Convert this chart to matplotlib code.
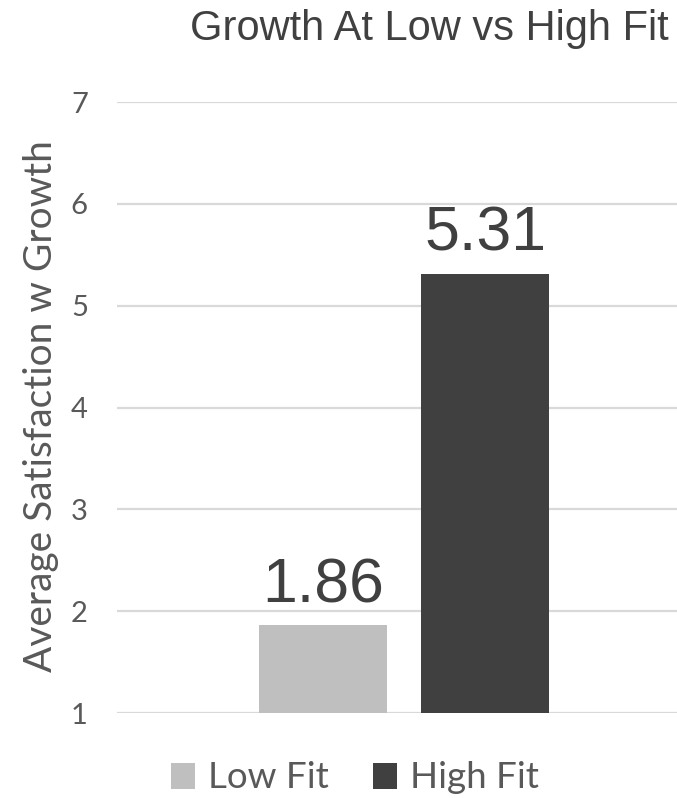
import matplotlib
matplotlib.use("Agg")
import matplotlib.pyplot as plt
from matplotlib.patches import Patch

# Data
series = ["Low Fit", "High Fit"]
values = [1.86, 5.31]
colors = ["#bfbfbf", "#404040"]
yticks = [1, 2, 3, 4, 5, 6, 7]

title = "Growth At Low vs High Fit"
ylabel = "Average Satisfaction w Growth"

W, H = 677, 798
fig = plt.figure(figsize=(W / 100, H / 100), dpi=100)
ax = fig.add_axes([117 / W, 1 - 713 / H, 560 / W, (713 - 102) / H])

# Clustered bars: unit bar width, offset from the category centre
bar_w = 1.0
offsets = [-0.633, 0.633]
for name, v, c, off in zip(series, values, colors, offsets):
    ax.bar(off, v - 1, bottom=1, width=bar_w, color=c, zorder=3, label=name)
    ax.text(off, v + 0.23, f"{v:.2f}", ha="center", va="baseline",
            fontsize=45, family="Liberation Sans", color="#404040")

ax.set_xlim(-2.242, 2.133)
ax.set_ylim(1, 7)
ax.set_yticks(yticks)
ax.set_xticks([])
ax.grid(axis="y", color="#d9d9d9", linewidth=1.6, zorder=0)
for s in ax.spines.values():
    s.set_visible(False)
ax.tick_params(axis="y", length=0, pad=21, labelsize=21, labelcolor="#595959")
for lab in ax.get_yticklabels():
    lab.set_family("Lato")

ax.set_ylabel(ylabel, fontsize=28, family="Lato", color="#595959")
ax.yaxis.set_label_coords(-0.104, 0.502)

fig.text(669 / W, 1 - 40 / H, title, ha="right", va="baseline",
         fontsize=30, family="Liberation Sans", color="#404040")

handles = [Patch(facecolor=c, edgecolor="none") for c in colors]
fig.legend(handles, series, loc="center", bbox_to_anchor=(355 / W, 1 - 778 / H),
           ncol=2, frameon=False, prop={"family": "Lato", "size": 26.5},
           labelcolor="#595959", handlelength=0.65, handleheight=0.7,
           handletextpad=0.35, columnspacing=1.2)

fig.savefig("out.png", dpi=100)
